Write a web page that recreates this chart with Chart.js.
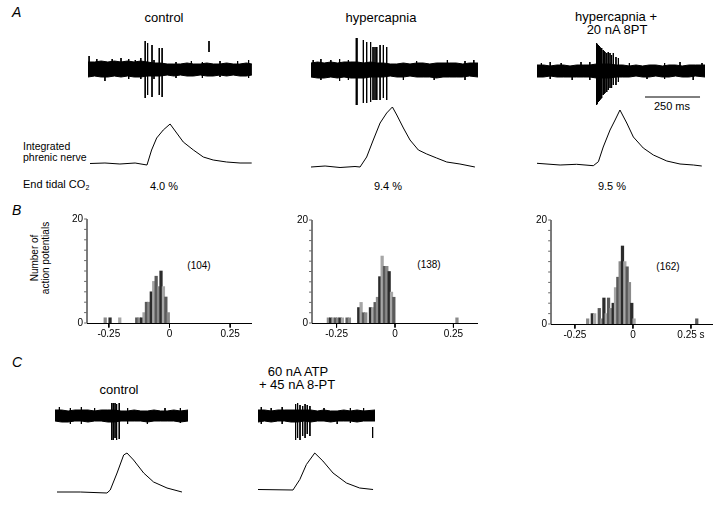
<!DOCTYPE html>
<html>
<head>
<meta charset="utf-8">
<script src="https://cdn.jsdelivr.net/npm/chart.js@4.4.0/dist/chart.umd.min.js"></script>
<style>
  body { margin: 0; background: #fff; }
  #fig { position: relative; width: 720px; height: 505px; overflow: hidden;
         font-family: Arial, "Liberation Sans", sans-serif; color: #000; }
  #fig canvas { position: absolute; }
  .t { position: absolute; white-space: nowrap; font-size: 13px; line-height: 13px; transform: translate(-50%, -50%); }
  .s { font-size: 11px; line-height: 11px; }
  .h { font-size: 10px; line-height: 10px; }
  .l { position: absolute; white-space: nowrap; font-size: 10.5px; line-height: 11px; transform: translateY(-50%); }
  .p { position: absolute; font-style: italic; font-size: 14px; line-height: 14px; transform: translateY(-50%); }
  .yl { position: absolute; white-space: nowrap; font-size: 10px; line-height: 11px; text-align: center;
        transform: translate(-50%, -50%) rotate(-90deg); }
  sub { font-size: 7px; vertical-align: -2px; }
</style>
</head>
<body>
<div id="fig">
  <div class="p" style="left:12px;top:12px">A</div>
  <div class="t" style="left:164px;top:17px">control</div>
  <div class="t" style="left:381px;top:17px">hypercapnia</div>
  <div class="t" style="left:616px;top:16px">hypercapnia +</div>
  <div class="t" style="left:617px;top:29px">20 nA 8PT</div>
  <div class="t s" style="left:672px;top:106px">250 ms</div>
  <div class="l" style="left:23px;top:146px">Integrated</div>
  <div class="l" style="left:23px;top:157px">phrenic nerve</div>
  <div class="l" style="left:23px;top:186px;font-size:11px">End tidal CO<sub>2</sub></div>
  <div class="t s" style="left:164px;top:186px">4.0 %</div>
  <div class="t s" style="left:388px;top:186px">9.4 %</div>
  <div class="t s" style="left:612px;top:186px">9.5 %</div>

  <div class="p" style="left:12px;top:210px">B</div>
  <div class="yl" style="left:40px;top:258px">Number of<br>action potentials</div>
  <div class="t h" style="left:199px;top:266px">(104)</div>
  <div class="t h" style="left:429px;top:265px">(138)</div>
  <div class="t h" style="left:668px;top:267px">(162)</div>

  <div class="p" style="left:12px;top:362px">C</div>
  <div class="t" style="left:119px;top:389px">control</div>
  <div class="t" style="left:298px;top:371px">60 nA ATP</div>
  <div class="t" style="left:297px;top:384px">+ 45 nA 8-PT</div>
</div>
<script>
Chart.defaults.font.family = 'Arial, "Liberation Sans", sans-serif';

const PX_PER_MS = 0.22;

// ---------- A: raw unit traces (time ms, amplitude a.u.) ----------
const ctlEnvT  = [0, 30, 60, 90, 120, 150, 180, 210, 240, 270, 300, 330, 360, 390, 420, 450, 480, 510, 540, 570, 600, 630, 660, 690, 720, 745];
const ctlEnvHi = [7, 7, 8, 7, 8, 7, 8, 7, 8, 7, 6, 6, 5, 5, 5, 6, 5, 5, 6, 5, 5, 6, 5, 5, 6, 5];
const ctlEnvLo = [-8, -7, -8, -8, -7, -8, -7, -8, -8, -7, -7, -7, -6, -7, -6, -7, -7, -6, -7, -7, -6, -7, -6, -7, -7, -6];
const ctlNoiseT   = [5, 40, 77, 110, 150, 185, 215, 240, 300, 400, 470, 520, 600, 680, 730];
const ctlNoiseTop = [13, 10, 0, 10, 11, 10, 9, 11, 9, 7, 8, 7, 8, 8, 9];
const ctlNoiseBot = [0, 0, -12, 0, 0, -10, 0, -10, -10, -9, 0, -9, -8, 0, -9];
const ctlSpikeT   = [260, 271, 291, 324, 337, 550];
const ctlSpikeTop = [28, 26, 24, 21, 21, 28];
const ctlSpikeBot = [-29, -26, -28, -26, -28, 17];

const hypEnvT  = [0, 30, 60, 90, 120, 150, 180, 210, 240, 270, 300, 330, 360, 390, 420, 450, 480, 510, 540, 570, 600, 630, 660, 690, 720, 759];
const hypEnvHi = [7, 8, 7, 8, 7, 8, 8, 8, 7, 8, 7, 7, 6, 6, 7, 6, 7, 7, 6, 7, 7, 7, 7, 6, 7, 7];
const hypEnvLo = [-7, -8, -8, -7, -8, -7, -8, -8, -8, -7, -7, -7, -6, -7, -7, -6, -7, -7, -7, -8, -7, -7, -7, -7, -6, -7];
const hypNoiseT   = [10, 45, 90, 130, 170, 420, 480, 560, 620, 700, 740];
const hypNoiseTop = [10, 11, 10, 11, 10, 0, 9, 0, 10, 9, 10];
const hypNoiseBot = [0, -10, 0, -11, -10, -10, 0, -10, 0, -10, 0];
const hypSpikeT   = [206, 209, 238, 253, 271, 282, 291, 299, 314, 329, 344];
const hypSpikeTop = [32, 32, 30, 28, 28, 23, 23, 23, 25, 25, 23];
const hypSpikeBot = [-35, -35, -33, -33, -32, -30, -30, -30, -30, -28, -30];

const ptEnvT  = [0, 30, 60, 90, 120, 150, 180, 210, 240, 270, 300, 330, 360, 390, 420, 450, 480, 510, 540, 570, 600, 630, 660, 690, 720, 764];
const ptEnvHi = [6, 6, 5, 6, 6, 5, 6, 6, 6, 7, 7, 7, 6, 6, 5, 6, 5, 6, 6, 5, 6, 6, 5, 6, 6, 6];
const ptEnvLo = [-6, -6, -5, -6, -6, -6, -6, -6, -6, -7, -7, -7, -6, -6, -6, -5, -6, -6, -5, -6, -6, -5, -6, -6, -5, -6];
const ptNoiseT   = [20, 60, 110, 160, 200, 240, 420, 500, 580, 650, 710, 750];
const ptNoiseTop = [8, 9, 8, 0, 9, 9, 8, 0, 8, 9, 0, 8];
const ptNoiseBot = [0, -8, 0, -9, 0, -9, 0, -8, -8, 0, -9, 0];
const ptSpikeT   = [271, 275, 279, 283, 286, 290, 294, 301, 305, 309, 317, 324, 332, 339, 347, 359, 370];
const ptSpikeTop = [28, 27, 26, 25, 24, 23, 23, 21, 20, 19, 18, 19, 18, 16, 18, 14, 13];
const ptSpikeBot = [-34, -33, -31, -30, -29, -28, -27, -24, -23, -22, -21, -19, -17, -17, -14, -14, -11];
const ptScaleBarMs = [491, 741];   // 250 ms
const ptScaleBarY = -26;

// ---------- A: integrated phrenic nerve ----------
const ctlIntT = [0, 68, 136, 205, 259, 280, 303, 333, 364, 394, 424, 470, 515, 560, 621, 682, 735];
const ctlIntV = [0.5, 1, 0, 1, -1, 14, 26, 34, 40, 31, 22, 14, 7, 4, 2, 1, 1];
const hypIntT = [0, 64, 132, 200, 223, 253, 283, 314, 344, 370, 390, 420, 450, 488, 526, 571, 617, 677, 745];
const hypIntV = [0, 1, -0.5, 0.5, 0, 10, 27, 44, 54, 60, 52, 39, 27, 17, 13, 9, 5, 3, 0];
const ptIntT = [0, 105, 180, 256, 279, 301, 332, 355, 377, 408, 438, 483, 529, 590, 650, 711, 749];
const ptIntV = [1.7, 0, 0.7, -0.7, 3.3, 18, 35, 45, 55, 42, 28, 17, 10, 4, 1, 0, -1];

// ---------- B: spike-time histograms (s) ----------
const histTicks = [-0.25, 0, 0.25];
const histTickLabels = ['-0.25', '0', '0.25'];
const histTickLabelsLast = ['-0.25', '0', '0.25 s'];
const countTicks = [0, 2, 4, 6, 8, 10, 12, 14, 16, 18, 20];

const ctlBins   = [-0.265, -0.245, -0.205, -0.135, -0.125, -0.115, -0.105, -0.095, -0.085, -0.075, -0.065, -0.055, -0.045, -0.035, -0.025, -0.015, -0.005];
const ctlCounts = [1, 1, 1, 1, 1, 1, 2, 4, 4, 6, 8, 9, 7, 10, 7, 5, 2];

const hypBins   = [-0.285, -0.275, -0.265, -0.255, -0.245, -0.235, -0.225, -0.205, -0.195, -0.155, -0.145, -0.135, -0.125,
                   -0.105, -0.095, -0.085, -0.075, -0.065, -0.055, -0.045, -0.035, -0.025, -0.015, -0.005, 0.265];
const hypCounts = [1, 1, 1, 1, 1, 1, 1, 1, 1, 3, 4, 2, 2, 3, 3, 4, 5, 9, 13, 11, 11, 10, 6, 5, 1];

const ptBins   = [-0.195, -0.175, -0.165, -0.145, -0.135, -0.125, -0.115, -0.105, -0.095, -0.085, -0.075, -0.065,
                  -0.055, -0.045, -0.035, -0.025, -0.015, -0.005, 0.005, 0.275];
const ptCounts = [1, 2, 2, 3, 1, 5, 2, 5, 3, 4, 7, 9, 12, 15, 12, 11, 8, 4, 1, 1];

const barShades = ['#8a8a8a', '#2b2b2b', '#a6a6a6', '#5a5a5a'];

// ---------- C: ATP + 8-PT ----------
const cCtlEnvT  = [0, 30, 60, 90, 120, 150, 180, 210, 240, 270, 300, 330, 360, 390, 420, 450, 480, 510, 540, 570, 605];
const cCtlEnvHi = [6, 6, 5, 6, 6, 6, 5, 6, 6, 6, 5, 5, 6, 5, 5, 6, 5, 5, 6, 5, 6];
const cCtlEnvLo = [-5, -6, -6, -5, -5, -6, -5, -5, -6, -6, -5, -5, -5, -5, -6, -5, -5, -5, -5, -6, -5];
const cCtlNoiseT   = [20, 70, 120, 180, 330, 420, 500, 570];
const cCtlNoiseTop = [9, 8, 9, 8, 8, 0, 8, 8];
const cCtlNoiseBot = [0, -8, -8, 0, -8, -8, 0, -7];
const cCtlSpikeT   = [258, 265, 273, 280, 292];
const cCtlSpikeTop = [13, 13, 13, 12, 13];
const cCtlSpikeBot = [-24, -24, -22, -24, -23];

const cAtpEnvT  = [0, 30, 60, 90, 120, 150, 180, 210, 240, 270, 300, 330, 360, 390, 420, 450, 480, 532];
const cAtpEnvHi = [6, 6, 5, 6, 6, 6, 6, 6, 6, 5, 6, 5, 5, 6, 5, 6, 5, 6];
const cAtpEnvLo = [-6, -5, -6, -5, -5, -6, -6, -5, -6, -5, -5, -6, -5, -5, -5, -6, -5, -5];
const cAtpNoiseT   = [15, 60, 110, 300, 360, 420, 480];
const cAtpNoiseTop = [9, 8, 9, 8, 0, 8, 8];
const cAtpNoiseBot = [-8, 0, -8, 0, -8, -7, 0];
const cAtpSpikeT   = [171, 180, 191, 203, 214, 224, 236];
const cAtpSpikeTop = [12, 13, 11, 10, 12, 11, 10];
const cAtpSpikeBot = [-24, -22, -24, -20, -22, -18, -20];
const cAtpScaleBarT = 521;
const cAtpScaleBarY = [-11, -22];

const cCtlIntT = [0, 106, 227, 242, 273, 303, 318, 348, 394, 439, 500, 568];
const cCtlIntV = [0, 0, -1, 2, 19, 37, 39, 32, 19, 10, 4, 0];
const cAtpIntT = [0, 159, 190, 220, 258, 295, 341, 402, 462, 523];
const cAtpIntV = [0.5, 0, 10.5, 25.5, 37, 29, 17, 7, 2, 0.5];

// ---------------------------------------------------------------
function makeCanvas(left, top, w, h) {
  const c = document.createElement('canvas');
  c.width = w; c.height = h;
  c.style.left = left + 'px'; c.style.top = top + 'px';
  c.style.width = w + 'px'; c.style.height = h + 'px';
  document.getElementById('fig').appendChild(c);
  return c;
}

const pts = (xs, ys) => xs.map((x, i) => ({ x: x, y: ys[i] }));

// vertical strokes separated by gaps
function strokePts(ts, tops, bots) {
  const out = [];
  ts.forEach((t, i) => { out.push({ x: t, y: tops[i] }, { x: t, y: bots[i] }, { x: t, y: null }); });
  return out;
}

function lineSet(data, extra) {
  return Object.assign({ type: 'line', data: data, borderColor: '#000', borderWidth: 1, pointRadius: 0, fill: false, tension: 0 }, extra || {});
}

function traceChart(canvas, xMin, xMax, yMin, yMax, datasets) {
  return new Chart(canvas, {
    type: 'line',
    data: { datasets: datasets },
    options: {
      responsive: false, animation: false, events: [],
      layout: { padding: 0 },
      plugins: { legend: { display: false }, tooltip: { enabled: false } },
      scales: {
        x: { type: 'linear', min: xMin, max: xMax, display: false },
        y: { type: 'linear', min: yMin, max: yMax, display: false }
      }
    }
  });
}

function rawTrace(left, centerY, w, env, noise, spikes, more) {
  const c = makeCanvas(left, centerY - 36, w, 72);
  const sets = [
    lineSet(pts(env[0], env[1]), { backgroundColor: '#000', fill: '+1' }),
    lineSet(pts(env[0], env[2])),
    lineSet(strokePts(noise[0], noise[1], noise[2]), { spanGaps: false }),
    lineSet(strokePts(spikes[0], spikes[1], spikes[2]), { spanGaps: false })
  ].concat(more || []);
  traceChart(c, 0, w / PX_PER_MS, -36, 36, sets);
}

function intTrace(left, baseY, w, ts, vs) {
  const c = makeCanvas(left, baseY - 65, w, 76);
  traceChart(c, 0, w / PX_PER_MS, -11, 65, [lineSet(pts(ts, vs))]);
}

// time axis of a histogram: line + tick marks (own strip, same x range)
function timeAxis(left, axisY, w, xMin, xMax) {
  const c = makeCanvas(left, axisY - 5, w, 12);
  const axisPts = [{ x: xMin, y: 0 }, { x: xMax, y: 0 }, { x: xMax, y: null }]
    .concat(strokePts(histTicks, histTicks.map(() => 0), histTicks.map(() => -4)));
  traceChart(c, xMin, xMax, -6.5, 5.5, [lineSet(axisPts, { spanGaps: false })]);
}

function histChart(left, top, areaW, areaH, xMin, xMax, bins, counts, labels) {
  const c = makeCanvas(left, top, areaW + 38, areaH + 24);
  // count axis line and tick marks, in data units of the two scales
  const yTickLen = 0.012 * (xMax - xMin) / 0.68; // seconds
  const yAxisPts = [];
  countTicks.forEach(v => { yAxisPts.push({ x: xMin - yTickLen, y: v }, { x: xMin, y: v }, { x: xMin, y: null }); });
  yAxisPts.push({ x: xMin, y: 20 }, { x: xMin, y: 0 });
  new Chart(c, {
    type: 'line',
    data: {
      datasets: [
        lineSet(yAxisPts, { borderColor: '#6a6a6a', spanGaps: false, clip: false, order: 1 }),
        {
          type: 'bar', order: 2,
          data: pts(bins, counts),
          backgroundColor: bins.map((b, i) => barShades[i % barShades.length]),
          barThickness: 2.6, borderWidth: 0
        }
      ]
    },
    options: {
      responsive: false, animation: false, events: [],
      layout: { padding: { top: 6, right: 8, left: 0, bottom: 0 } },
      plugins: { legend: { display: false }, tooltip: { enabled: false } },
      scales: {
        x: {
          type: 'linear', min: xMin, max: xMax, offset: false,
          afterBuildTicks: s => { s.ticks = histTicks.map(v => ({ value: v })); },
          afterFit: s => { s.height = 18; s.paddingLeft = 0; s.paddingRight = 0; },
          ticks: { callback: (v, i) => labels[i], font: { size: 10 }, color: '#000', padding: 5, maxRotation: 0, autoSkip: false },
          grid: { display: false, drawTicks: false },
          border: { display: false }
        },
        y: {
          type: 'linear', min: 0, max: 20,
          afterBuildTicks: s => { s.ticks = countTicks.map(v => ({ value: v })); },
          afterFit: s => { s.width = 30; s.paddingTop = 0; s.paddingBottom = 0; },
          ticks: { callback: v => (v === 0 || v === 20) ? String(v) : '', font: { size: 10 }, color: '#000', padding: 4, autoSkip: false },
          grid: { display: false, drawTicks: false },
          border: { display: false }
        }
      }
    }
  });
  timeAxis(left + 30, top + 6 + areaH, areaW, xMin, xMax);
}

// A raw traces
rawTrace(88, 69, 164, [ctlEnvT, ctlEnvHi, ctlEnvLo], [ctlNoiseT, ctlNoiseTop, ctlNoiseBot], [ctlSpikeT, ctlSpikeTop, ctlSpikeBot]);
rawTrace(311, 70, 167, [hypEnvT, hypEnvHi, hypEnvLo], [hypNoiseT, hypNoiseTop, hypNoiseBot], [hypSpikeT, hypSpikeTop, hypSpikeBot]);
rawTrace(537, 71, 168, [ptEnvT, ptEnvHi, ptEnvLo], [ptNoiseT, ptNoiseTop, ptNoiseBot], [ptSpikeT, ptSpikeTop, ptSpikeBot],
  [lineSet(pts(ptScaleBarMs, [ptScaleBarY, ptScaleBarY]))]);

// A integrated traces
intTrace(90, 164, 162, ctlIntT, ctlIntV);
intTrace(311, 167, 165, hypIntT, hypIntV);
intTrace(537, 165, 166, ptIntT, ptIntV);

// B histograms (canvas left/top, plot width/height, x range)
histChart(57, 213, 165, 104, -0.34, 0.34, ctlBins, ctlCounts, histTickLabels);
histChart(282, 214, 166, 103, -0.355, 0.355, hypBins, hypCounts, histTickLabels);
histChart(521, 214, 162, 104, -0.353, 0.345, ptBins, ptCounts, histTickLabelsLast);

// C traces
rawTrace(55, 416, 133, [cCtlEnvT, cCtlEnvHi, cCtlEnvLo], [cCtlNoiseT, cCtlNoiseTop, cCtlNoiseBot], [cCtlSpikeT, cCtlSpikeTop, cCtlSpikeBot]);
rawTrace(258, 416, 117, [cAtpEnvT, cAtpEnvHi, cAtpEnvLo], [cAtpNoiseT, cAtpNoiseTop, cAtpNoiseBot], [cAtpSpikeT, cAtpSpikeTop, cAtpSpikeBot],
  [lineSet(pts([cAtpScaleBarT, cAtpScaleBarT], cAtpScaleBarY))]);
intTrace(57, 492, 127, cCtlIntT, cCtlIntV);
intTrace(258, 490, 117, cAtpIntT, cAtpIntV);
</script>
</body>
</html>
